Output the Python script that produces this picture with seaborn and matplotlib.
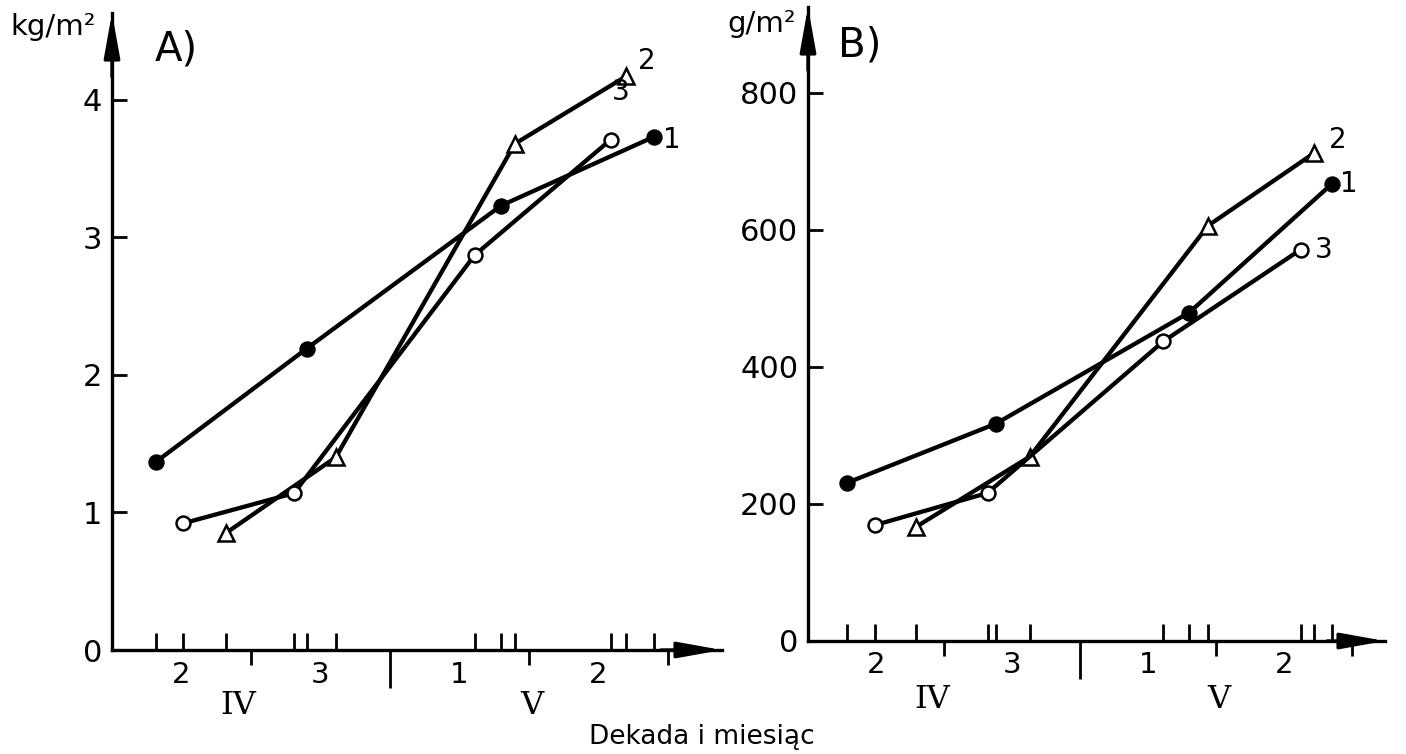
import matplotlib
matplotlib.use("Agg")
import matplotlib.pyplot as plt
import seaborn as sns
import pandas as pd

# ---------------- data ----------------
# x = day counted from the start of the 2nd decade of April
decade_labels = ["2", "3", "1", "2"]
decade_centres = [5, 15, 25, 35]
decade_bounds = [10, 20, 30, 40]
month_labels = ["IV", "V"]
month_pos = [9.1, 30.2]
series_names = ["1", "2", "3"]

# Panel A (kg/m2)
a_days_1 = [3.2, 14.0, 28.0, 39.0]
a_vals_1 = [1.37, 2.19, 3.23, 3.73]
a_days_2 = [8.2, 16.1, 29.0, 37.0]
a_vals_2 = [0.85, 1.40, 3.68, 4.17]
a_days_3 = [5.1, 13.1, 26.1, 35.9]
a_vals_3 = [0.92, 1.14, 2.87, 3.71]
a_yticks = [0, 1, 2, 3, 4]

# Panel B (g/m2)
b_days_1 = [2.9, 13.8, 28.0, 38.5]
b_vals_1 = [231, 317, 479, 667]
b_days_2 = [7.9, 16.3, 29.4, 37.2]
b_vals_2 = [166, 269, 606, 712]
b_days_3 = [4.9, 13.2, 26.1, 36.2]
b_vals_3 = [169, 216, 437, 571]
b_yticks = [0, 200, 400, 600, 800]

# ---------------- style ----------------
sns.set_style("white")
plt.rcParams["font.family"] = ["DejaVu Sans"]
for k in ("text.color", "axes.labelcolor", "xtick.color", "ytick.color",
          "axes.edgecolor"):
    plt.rcParams[k] = "black"

W, H = 1406, 754
fig = plt.figure(figsize=(W / 100, H / 100), dpi=100)

def px_axes(x0, y0, x1, y1):
    # x0,y0 = origin (px, from top), x1 = arrow tip x, y1 = arrow tip y
    return fig.add_axes([x0 / W, (H - y0) / H, (x1 - x0) / W, (y0 - y1) / H])

axA = px_axes(112, 650, 722, 13)
axB = px_axes(808, 641, 1385, 7)

marker_style = {
    "1": dict(marker="o", markerfacecolor="black", markersize=10),
    "2": dict(marker="^", markerfacecolor="white", markersize=11),
    "3": dict(marker="o", markerfacecolor="white", markersize=10),
}

def draw_panel(ax, days, vals, xlim, ylim, yticks, label_offsets, panel_letter,
               unit, letter_pos, unit_pos, dec_dy, mon_dy):
    for name, d, v in zip(series_names, days, vals):
        df = pd.DataFrame({"day": d, "val": v})
        sns.lineplot(data=df, x="day", y="val", ax=ax, color="black",
                     linewidth=3.1, markeredgecolor="black", markeredgewidth=1.8,
                     estimator=None, sort=False, clip_on=False,
                     **marker_style[name])
        dx, dy = label_offsets[name]
        ax.annotate(name, xy=(d[-1], v[-1]), xytext=(dx, dy),
                    textcoords="offset pixels", ha="center", va="center",
                    fontsize=20, color="black")
    ax.set_xlim(*xlim)
    ax.set_ylim(*ylim)
    ax.set_xlabel("")
    ax.set_ylabel("")
    for s in ("top", "right"):
        ax.spines[s].set_visible(False)
    for s in ("left", "bottom"):
        ax.spines[s].set_linewidth(2.4)
        ax.spines[s].set_color("black")
    # arrows at the ends of the axes
    ax.annotate("", xy=(1.0, 0), xytext=(0.9, 0), xycoords="axes fraction",
                arrowprops=dict(arrowstyle="-|>,head_length=1.5,head_width=0.27",
                                color="black", lw=2.4, shrinkA=0, shrinkB=0,
                                mutation_scale=18))
    ax.annotate("", xy=(0, 1.0), xytext=(0, 0.9), xycoords="axes fraction",
                arrowprops=dict(arrowstyle="-|>,head_length=1.5,head_width=0.27",
                                color="black", lw=2.4, shrinkA=0, shrinkB=0,
                                mutation_scale=18))
    # y ticks
    ax.set_yticks(yticks)
    ax.set_yticklabels([str(t) for t in yticks])
    ax.tick_params(axis="y", direction="in", length=11, width=2, labelsize=22,
                   pad=7, left=True, colors="black")
    # x ticks: decade boundaries (out), sampling dates (in)
    ax.set_xticks(decade_bounds)
    ax.set_xticklabels([""] * len(decade_bounds))
    all_days = sorted(set(x for d in days for x in d))
    ax.set_xticks(all_days, minor=True)
    ax.tick_params(axis="x", which="major", direction="out", length=11, width=2,
                   bottom=True, colors="black")
    ax.tick_params(axis="x", which="minor", direction="in", length=12, width=2,
                   bottom=True, colors="black")
    ax.xaxis.get_major_ticks()[1].tick1line.set_markersize(27)
    for lab, xc in zip(decade_labels, decade_centres):
        ax.annotate(lab, xy=(xc, 0), xycoords=("data", "axes fraction"),
                    xytext=(0, -dec_dy), textcoords="offset pixels",
                    ha="center", va="center", fontsize=21, color="black")
    for lab, xc in zip(month_labels, month_pos):
        ax.annotate(lab, xy=(xc, 0), xycoords=("data", "axes fraction"),
                    xytext=(0, -mon_dy), textcoords="offset pixels",
                    ha="center", va="center", fontsize=23, color="black",
                    family="DejaVu Serif")
    fig.text(letter_pos[0] / W, 1 - letter_pos[1] / H, panel_letter,
             fontsize=29, ha="center", va="center", color="black")
    fig.text(unit_pos[0] / W, 1 - unit_pos[1] / H, unit,
             fontsize=21, ha="center", va="center", color="black")

draw_panel(axA, [a_days_1, a_days_2, a_days_3], [a_vals_1, a_vals_2, a_vals_3],
           (0, 43.9), (0, 4.63), a_yticks,
           {"1": (18, -3), "2": (21, 15), "3": (10, 48)},
           "A)", "kg/m²", (176, 50), (53, 27), 25, 56)
draw_panel(axB, [b_days_1, b_days_2, b_days_3], [b_vals_1, b_vals_2, b_vals_3],
           (0, 42.4), (0, 925), b_yticks,
           {"1": (17, 0), "2": (24, 13), "3": (23, 0)},
           "B)", "g/m²", (860, 45), (762, 24), 24, 59)

fig.text(702 / W, 1 - 737 / H, "Dekada i miesiąc", fontsize=19,
         ha="center", va="center", color="black")

fig.savefig("out.png", dpi=100, facecolor="white")
